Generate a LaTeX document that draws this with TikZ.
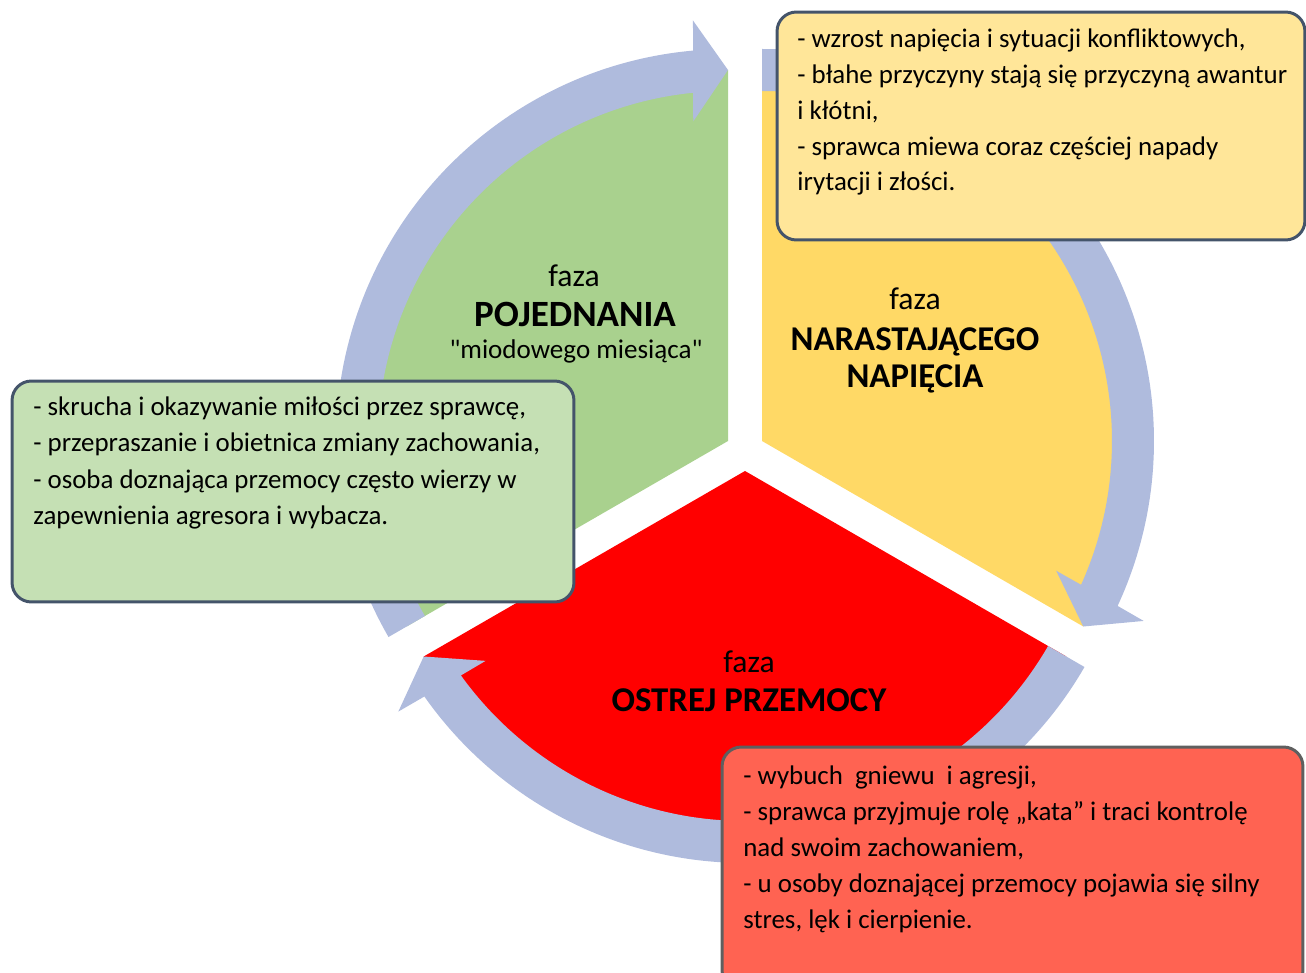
\documentclass[tikz,border=0pt]{standalone}
\usepackage{fontspec}
\setmainfont{Carlito}[Ligatures=TeXOff]
\usetikzlibrary{calc}
\definecolor{secgreen}{HTML}{A9D18E}
\definecolor{secyellow}{HTML}{FFD966}
\definecolor{secred}{HTML}{FF0000}
\definecolor{bandcol}{RGB}{175,187,221}
\definecolor{boxyellow}{HTML}{FFE699}
\definecolor{boxgreen}{HTML}{C5E0B4}
\definecolor{boxred}{RGB}{255,99,82}
\definecolor{boxline}{RGB}{68,84,106}
\definecolor{boxlinered}{RGB}{95,95,95}
\newcommand{\cyclearrow}[3]{%
 \fill[bandcol] ($(#1)+(#2:350)$) -- ($(#1)+(#2:392)$)
   arc[start angle=#2, end angle={#3+5.12}, radius=392]
   -- ($(#1)+({#3+4.76}:422)$) -- ($(#1)+(#3:371)$) -- ($(#1)+({#3+6.2}:321.5)$)
   -- ($(#1)+({#3+5.74}:350)$)
   arc[start angle={#3+5.74}, end angle=#2, radius=350] -- cycle;}
\tikzset{
  body/.style={font=\fontsize{15.3}{18}\selectfont, anchor=base west, inner sep=0pt},
  fazalab/.style={font=\fontsize{18}{21}\selectfont, anchor=base, inner sep=0pt},
  boldlab/.style={font=\fontsize{19.8}{23}\selectfont\bfseries, anchor=base, inner sep=0pt},
  sublab/.style={font=\fontsize{15.4}{18}\selectfont, anchor=base, inner sep=0pt},
  callout/.style={rounded corners=11pt, line width=1.7pt, draw=boxline, inner sep=0pt}
}
\begin{document}
\begin{tikzpicture}[x=0.02cm, y=0.02cm]
\useasboundingbox (0,0) rectangle (1306,-973);
\clip (0,0) rectangle (1306,-973);
\coordinate (G) at (728,-441);
\coordinate (Y) at (762,-441);
\coordinate (R) at (745,-471);
% sectors
\fill[secgreen] (G) -- ++(90:371) arc[start angle=90, end angle=210, radius=371] -- cycle;
\fill[secyellow] (Y) -- ++(-30:371) arc[start angle=-30, end angle=90, radius=371] -- cycle;
\fill[secred] (R) -- ++(210:371) arc[start angle=210, end angle=330, radius=371] -- cycle;
% circular arrows
\cyclearrow{G}{210}{90}
\cyclearrow{Y}{90}{-30}
\cyclearrow{R}{-30}{-150}
% phase labels
\node[fazalab] (gfaza) at (574,-287) {faza};
\node[boldlab, font=\fontsize{21.1}{24}\selectfont\bfseries] (gname) at (575,-327) {POJEDNANIA};
\node[sublab] (gsub) at (576,-358) {"miodowego miesiąca"};
\node[fazalab] (yfaza) at (915,-310) {faza};
\node[boldlab] (yname1) at (915,-351) {NARASTAJĄCEGO};
\node[boldlab] (yname2) at (915,-388) {NAPIĘCIA};
\node[fazalab] (rfaza) at (749,-672) {faza};
\node[boldlab] (rname) at (749,-711) {OSTREJ PRZEMOCY};
% callout boxes
\node[callout, fill=boxyellow, minimum width=10.56cm, minimum height=4.56cm] (ybox) at (1041,-126) {};
\node[callout, fill=boxgreen, minimum width=11.24cm, minimum height=4.42cm] (gbox) at (293,-491.5) {};
\node[callout, fill=boxred, draw=boxlinered, minimum width=11.62cm, minimum height=4.86cm] (rbox) at (1012.5,-868.5) {};
% yellow box text
\node[body] (y1) at (797,-48) {- wzrost napięcia i sytuacji konfliktowych,};
\node[body] (y2) at (797,-84) {- błahe przyczyny stają się przyczyną awantur};
\node[body] (y3) at (797,-119.5) {i kłótni,};
\node[body] (y4) at (797,-155.5) {- sprawca miewa coraz częściej napady};
\node[body] (y5) at (797,-191) {irytacji i złości.};
% green box text
\node[body] (g1) at (33,-416) {- skrucha i okazywanie miłości przez sprawcę,};
\node[body] (g2) at (33,-452) {- przepraszanie i obietnica zmiany zachowania,};
\node[body] (g3) at (33,-488) {- osoba doznająca przemocy często wierzy w};
\node[body] (g4) at (33,-524) {zapewnienia agresora i wybacza.};
% red box text
\node[body] (r1) at (743,-784) {- wybuch\ \ gniewu\ \ i agresji,};
\node[body] (r2) at (743,-820) {- sprawca przyjmuje rolę „kata” i traci kontrolę};
\node[body] (r3) at (743,-856) {nad swoim zachowaniem,};
\node[body] (r4) at (743,-892) {- u osoby doznającej przemocy pojawia się silny};
\node[body] (r5) at (743,-928) {stres, lęk i cierpienie.};
\end{tikzpicture}
\end{document}
